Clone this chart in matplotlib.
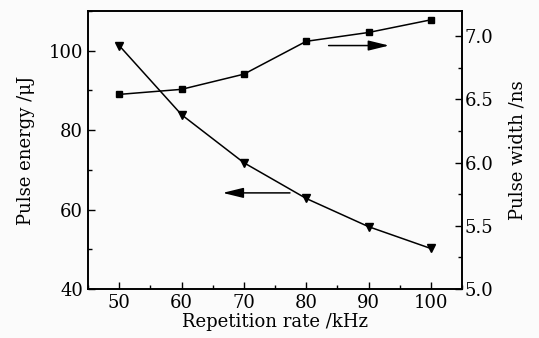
import matplotlib.pyplot as plt
from matplotlib.ticker import MultipleLocator

plt.rcParams['font.family'] = ['DejaVu Serif']
plt.rcParams['mathtext.fontset'] = 'dejavuserif'

# data
rate = [50, 60, 70, 80, 90, 100]                      # kHz
energy = [101.3, 83.9, 71.8, 62.8, 55.7, 50.2]        # uJ
width = [6.54, 6.58, 6.70, 6.96, 7.03, 7.13]          # ns

fig = plt.figure(figsize=(5.39, 3.38), dpi=100, facecolor='#fbfbfb')
ax1 = fig.add_axes([88/539, 1 - 289/338, (462-88)/539, (289-11)/338])
ax1.set_facecolor('#fbfbfb')

ax1.plot(rate, energy, '-v', color='black', lw=1.1, ms=6)
ax1.set_xlim(45, 105)
ax1.set_ylim(40, 110)
ax1.set_xticks([50, 60, 70, 80, 90, 100])
ax1.set_yticks([40, 60, 80, 100])
ax1.xaxis.set_minor_locator(MultipleLocator(5))
ax1.yaxis.set_minor_locator(MultipleLocator(10))
ax1.set_xlabel('Repetition rate /kHz', fontsize=13, labelpad=1)
ax1.set_ylabel('Pulse energy /μJ', fontsize=13, labelpad=10)
ax1.tick_params(which='both', direction='in', top=False, labelsize=13, width=1)
ax1.tick_params(which='major', length=5)
ax1.tick_params(which='minor', length=3)

ax2 = ax1.twinx()
ax2.plot(rate, width, '-s', color='black', lw=1.1, ms=4.5)
ax2.set_ylim(5.0, 7.2)
ax2.set_yticks([5.0, 5.5, 6.0, 6.5, 7.0])
ax2.set_yticklabels(['5.0', '5.5', '6.0', '6.5', '7.0'])
ax2.yaxis.set_minor_locator(MultipleLocator(0.25))
ax2.set_ylabel('Pulse width /ns', fontsize=13, labelpad=11)
ax2.tick_params(which='both', direction='in', labelsize=13, width=1, pad=2)
ax2.tick_params(which='major', length=5)
ax2.tick_params(which='minor', length=3)

for ax in (ax1, ax2):
    for s in ax.spines.values():
        s.set_linewidth(1.2)

# arrows pointing to the relevant axes
arrow = dict(arrowstyle='-|>,head_length=0.9,head_width=0.22', color='black',
             lw=1.1, mutation_scale=14, shrinkA=0, shrinkB=0)
ax1.annotate('', xy=(93.3, 101.3), xytext=(83.6, 101.3), arrowprops=arrow)
ax1.annotate('', xy=(66.6, 64.2), xytext=(77.4, 64.2), arrowprops=arrow)

fig.savefig('out.png', dpi=100, facecolor=fig.get_facecolor())
